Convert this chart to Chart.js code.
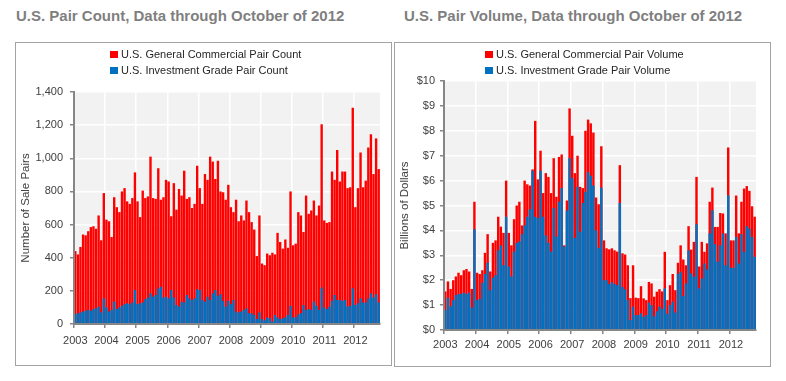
<!DOCTYPE html>
<html>
<head>
<meta charset="utf-8">
<script src="https://cdn.jsdelivr.net/npm/chart.js@4.4.1/dist/chart.umd.min.js"></script>
<style>
  html, body { margin: 0; padding: 0; background: #ffffff; width: 786px; height: 381px; overflow: hidden;
    font-family: "Liberation Sans", Arial, sans-serif; }
  .title { position: absolute; top: 8px; font-weight: bold; font-size: 15px; line-height: 15px;
    color: #7f7f7f; white-space: nowrap; }
  .panel { position: absolute; border: 1.5px solid #a3a3a3; box-sizing: border-box; }
  canvas { position: absolute; }
  .lg { position: absolute; height: 16px; display: flex; align-items: center; font-size: 11px;
    line-height: 16px; color: #262626; white-space: nowrap; }
  .lg i { display: inline-block; width: 8px; height: 7px; margin-right: 3px; }
</style>
</head>
<body>
<div class="title" style="left:16px">U.S. Pair Count, Data through October of 2012</div>
<div class="title" style="left:404px">U.S. Pair Volume, Data through October of 2012</div>

<div class="panel" style="left:15px; top:42px; width:377px; height:324px"></div>
<div class="panel" style="left:394px; top:42px; width:377px; height:325px"></div>

<canvas id="countChart" width="374" height="321" style="left:17px; top:43px"></canvas>
<canvas id="volumeChart" width="373" height="322" style="left:396px; top:43px"></canvas>

<div class="lg" style="left:110px; top:46px"><i style="background:#ff0000"></i>U.S. General Commercial Pair Count</div>
<div class="lg" style="left:110px; top:62px"><i style="background:#0070c0"></i>U.S. Investment Grade Pair Count</div>
<div class="lg" style="left:485px; top:46px"><i style="background:#ff0000"></i>U.S. General Commercial Pair Volume</div>
<div class="lg" style="left:485px; top:62px"><i style="background:#0070c0"></i>U.S. Investment Grade Pair Volume</div>

<script>
// ---------- categories ----------
const years = ["2003","2004","2005","2006","2007","2008","2009","2010","2011","2012"];
const monthsInYear = ["01","02","03","04","05","06","07","08","09","10","11","12"];
const lastMonthCount = 10; // data through October 2012

// ---------- U.S. Pair Count (number of sale pairs), Jan 2003 - Oct 2012 ----------
const countGeneral = [
  440, 420, 465, 540, 535, 560, 585, 590, 575, 655, 505, 790,       // 2003
  630, 620, 525, 765, 705, 675, 800, 820, 740, 725, 760, 915,       // 2004
  740, 645, 805, 760, 770, 1010, 760, 755, 940, 750, 765, 870,      // 2005
  860, 650, 850, 690, 815, 775, 925, 755, 765, 700, 725, 955,       // 2006
  820, 725, 905, 870, 1010, 980, 875, 985, 800, 795, 750, 840,      // 2007
  705, 675, 750, 620, 655, 625, 745, 675, 615, 570, 410, 655,       // 2008
  365, 355, 425, 415, 430, 420, 550, 495, 455, 510, 460, 800,       // 2009
  475, 485, 675, 655, 555, 775, 665, 685, 745, 655, 715, 1205,      // 2010
  625, 610, 615, 920, 870, 1050, 860, 920, 920, 820, 825, 1305,     // 2011
  705, 820, 1035, 825, 865, 1065, 1145, 905, 1120, 935              // 2012
];
const countInvestment = [
  60, 65, 70, 75, 80, 85, 80, 90, 95, 105, 70, 155,                 // 2003
  100, 75, 85, 135, 90, 100, 110, 120, 125, 120, 130, 205,          // 2004
  120, 125, 130, 150, 160, 185, 165, 175, 215, 225, 160, 165,       // 2005
  155, 205, 160, 115, 105, 135, 130, 175, 155, 145, 155, 210,       // 2006
  205, 145, 135, 165, 145, 185, 205, 170, 180, 140, 105, 140,       // 2007
  120, 145, 75, 70, 75, 85, 95, 65, 65, 55, 30, 70,                 // 2008
  30, 22, 40, 35, 15, 55, 40, 30, 35, 40, 55, 110,                  // 2009
  40, 40, 58, 65, 115, 85, 90, 85, 135, 110, 85, 220,               // 2010
  100, 90, 105, 140, 175, 145, 145, 140, 145, 105, 110, 215,        // 2011
  115, 125, 155, 130, 130, 155, 185, 160, 180, 130                  // 2012
];

// ---------- U.S. Pair Volume (billions of dollars), Jan 2003 - Oct 2012 ----------
const volumeGeneral = [
  1.55, 1.95, 1.65, 2.0, 2.15, 2.3, 2.2, 2.4, 2.45, 2.35, 1.65, 5.15,     // 2003
  2.3, 2.25, 2.4, 3.1, 3.85, 2.35, 3.5, 3.6, 4.55, 4.15, 3.9, 6.0,        // 2004
  3.9, 3.4, 4.45, 5.0, 5.15, 4.2, 6.0, 5.85, 5.8, 6.45, 8.4, 6.05,        // 2005
  7.2, 5.5, 6.3, 6.15, 5.5, 6.9, 5.35, 6.95, 7.05, 3.4, 5.2, 8.9,         // 2006
  7.8, 6.3, 7.0, 5.75, 5.7, 8.0, 8.45, 8.3, 7.93, 5.32, 5.05, 7.38,       // 2007
  3.6, 3.28, 3.24, 3.28, 3.2, 3.15, 6.62, 3.08, 3.03, 2.6, 1.28, 2.6,     // 2008
  1.3, 1.28, 1.76, 1.27, 1.2, 1.93, 1.87, 1.34, 1.54, 1.64, 1.55, 3.14,   // 2009
  1.2, 1.8, 2.25, 1.6, 2.7, 3.4, 2.83, 2.6, 4.17, 3.23, 3.54, 6.15,       // 2010
  2.55, 3.54, 3.14, 3.48, 5.15, 5.72, 4.14, 4.14, 4.7, 4.68, 3.88, 7.33,  // 2011
  3.6, 3.6, 5.4, 3.88, 5.15, 5.68, 5.78, 5.59, 4.97, 4.55                 // 2012
];
const volumeInvestment = [
  0.8, 1.3, 0.95, 1.2, 1.4, 1.45, 1.45, 1.5, 1.45, 1.5, 0.9, 4.05,        // 2003
  1.2, 1.25, 1.9, 2.25, 2.7, 1.6, 2.1, 2.2, 3.2, 3.4, 2.6, 4.55,          // 2004
  2.55, 2.15, 3.15, 3.5, 3.55, 3.85, 4.2, 4.55, 4.85, 6.4, 4.55, 4.5,     // 2005
  6.4, 4.55, 3.8, 3.5, 3.15, 4.9, 3.75, 5.15, 5.7, 3.35, 4.8, 6.9,        // 2006
  6.1, 3.7, 5.75, 3.95, 5.1, 5.55, 6.35, 6.2, 5.8, 4.0, 3.3, 5.72,        // 2007
  2.0, 2.0, 1.84, 1.92, 1.85, 1.8, 5.1, 1.73, 1.63, 1.2, 0.4, 0.94,       // 2008
  0.6, 0.6, 0.67, 0.53, 0.6, 1.1, 1.0, 0.55, 0.75, 0.94, 0.85, 1.67,      // 2009
  0.65, 1.0, 1.14, 0.7, 2.25, 2.34, 1.36, 1.87, 3.2, 2.27, 2.14, 4.25,    // 2010
  1.67, 2.07, 2.67, 2.43, 3.88, 4.81, 3.45, 2.74, 3.4, 3.88, 2.6, 5.41,   // 2011
  2.5, 2.5, 3.74, 2.67, 3.85, 3.14, 4.17, 4.08, 3.74, 2.94                // 2012
];

// ---------- build month categories ----------
const monthLabels = [];
years.forEach((y, yi) => {
  const n = (yi === years.length - 1) ? lastMonthCount : 12;
  for (let m = 0; m < n; m++) monthLabels.push(y + "-" + monthsInYear[m]);
});

const FONT = "'Liberation Sans', Arial, sans-serif";
const AXIS_GRAY = "#868686";
const TEXT_GRAY = "#404040";

const plotBackground = {
  id: "plotBackground",
  beforeDraw(chart) {
    const {ctx, chartArea} = chart;
    ctx.save();
    ctx.fillStyle = "#f2f2f2";
    ctx.fillRect(chartArea.left, chartArea.top, chartArea.right - chartArea.left, chartArea.bottom - chartArea.top);
    ctx.restore();
  }
};

function makeChart(canvasId, general, investment, names, yOpts, layoutPad, yWidth, xHeight, xPad, titlePad) {
  return new Chart(document.getElementById(canvasId), {
    type: "bar",
    data: {
      labels: monthLabels,
      datasets: [
        { label: names[1], data: investment, backgroundColor: "#0070c0", grouped: false, order: 0,
          barPercentage: 0.92, categoryPercentage: 1.0, borderWidth: 0 },
        { label: names[0], data: general, backgroundColor: "#ff0000", grouped: false, order: 1,
          barPercentage: 0.92, categoryPercentage: 1.0, borderWidth: 0 }
      ]
    },
    options: {
      responsive: false,
      animation: false,
      devicePixelRatio: 1,
      layout: { padding: layoutPad },
      plugins: { legend: { display: false }, tooltip: { enabled: false } },
      scales: {
        x: {
          offset: true,
          grid: {
            offset: true,
            lineWidth: 1.5,
            tickLength: 4,
            color: c => (c.index % 12 === 0 ? "#ffffff" : "rgba(0,0,0,0)"),
            tickColor: c => (c.index % 12 === 0 ? AXIS_GRAY : "rgba(0,0,0,0)")
          },
          border: { color: AXIS_GRAY, width: 2, z: 1 },
          ticks: {
            autoSkip: false, maxRotation: 0, minRotation: 0, padding: xPad,
            color: TEXT_GRAY, font: { family: FONT, size: 11 },
            callback: (v, i) => (i % 12 === 0 ? monthLabels[i].slice(0, 4) : "")
          },
          afterFit: s => { s.height = xHeight; }
        },
        y: {
          min: yOpts.min, max: yOpts.max,
          grid: { color: "#ffffff", lineWidth: 1.5, tickLength: 4, tickColor: AXIS_GRAY },
          border: { color: AXIS_GRAY, width: 2, z: 1 },
          ticks: {
            stepSize: yOpts.step, padding: yOpts.pad,
            color: TEXT_GRAY, font: { family: FONT, size: 11 },
            callback: yOpts.fmt
          },
          title: { display: true, text: yOpts.title, color: TEXT_GRAY,
                   font: { family: FONT, size: 11.5 }, padding: { top: titlePad, bottom: 0 } },
          afterFit: s => { s.width = yWidth; }
        }
      }
    },
    plugins: [plotBackground]
  });
}

makeChart("countChart", countGeneral, countInvestment,
  ["U.S. General Commercial Pair Count", "U.S. Investment Grade Pair Count"],
  { min: 0, max: 1400, step: 200, pad: 7, title: "Number of Sale Pairs",
    fmt: v => Number(v).toLocaleString("en-US") },
  { top: 49, right: 11, left: 0, bottom: 0 }, 57, 40, 6, 2);

makeChart("volumeChart", volumeGeneral, volumeInvestment,
  ["U.S. General Commercial Pair Volume", "U.S. Investment Grade Pair Volume"],
  { min: 0, max: 10, step: 1, pad: 5, title: "Billions of Dollars",
    fmt: v => "$" + v },
  { top: 38, right: 13, left: 0, bottom: 0 }, 48, 35, 4, 1.5);
</script>
</body>
</html>
